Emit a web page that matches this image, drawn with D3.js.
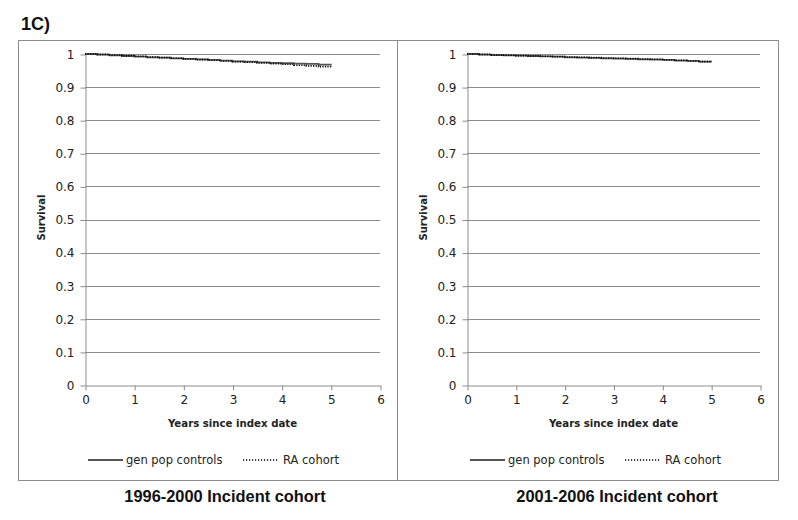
<!DOCTYPE html>
<html><head><meta charset="utf-8">
<script src="https://cdn.jsdelivr.net/npm/d3@7"></script>
<style>body{margin:0;background:#fff}svg{display:block}</style>
</head><body><svg id="c" width="798" height="520"></svg>
<script>
const years = [0,0.25,0.5,0.75,1,1.25,1.5,1.75,2,2.25,2.5,2.75,3,3.25,3.5,3.75,4,4.25,4.5,4.75,5];
const leftGenPop = [1,.998,.996,.994,.992,.990,.989,.987,.985,.984,.982,.980,.978,.977,.975,.973,.972,.971,.970,.968,.967];
const leftRA     = [1,.999,.997,.995,.993,.991,.989,.987,.985,.983,.981,.979,.977,.975,.973,.971,.969,.966,.964,.962,.960];
const rightGenPop= [1,.998,.997,.996,.995,.994,.993,.992,.990,.989,.988,.987,.986,.985,.984,.983,.982,.980,.979,.977,.975];
const rightRA    = [1,.999,.997,.996,.995,.994,.993,.992,.991,.990,.989,.988,.987,.986,.985,.984,.982,.981,.979,.977,.975];
const xTicks = [0,1,2,3,4,5,6];
const yTicks = [0,0.1,0.2,0.3,0.4,0.5,0.6,0.7,0.8,0.9,1];
const seriesNames = ["gen pop controls","RA cohort"];
const panelTitles = ["1996-2000 Incident cohort","2001-2006 Incident cohort"];
const figLabel = "1C)";

const svg = d3.select("#c");
const font = "Tahoma, 'DejaVu Sans', sans-serif";
svg.append("text").attr("x",21).attr("y",30).attr("font-family","Arial, 'Liberation Sans', sans-serif")
  .attr("font-weight","bold").attr("font-size",18).attr("fill","#111").text(figLabel);

const panels = [
  {x0:18, x1:397, px0:85, px1:380, gen:leftGenPop, ra:leftRA, title:panelTitles[0], tcx:225},
  {x0:397, x1:778, px0:467, px1:760, gen:rightGenPop, ra:rightRA, title:panelTitles[1], tcx:617}
];
const yTop=54, yBot=385;
panels.forEach(p=>{
  const g = svg.append("g");
  g.append("rect").attr("x",p.x0+0.5).attr("y",40.5).attr("width",p.x1-p.x0).attr("height",440)
    .attr("fill","none").attr("stroke","#8c8c8c").attr("stroke-width",1);
  const x = d3.scaleLinear().domain([0,6]).range([p.px0,p.px1]);
  const y = d3.scaleLinear().domain([0,1]).range([yBot,yTop]);
  g.selectAll(".grid").data(yTicks.filter(d=>d>0)).join("line")
    .attr("x1",p.px0).attr("x2",p.px1).attr("y1",d=>Math.round(y(d))+0.5).attr("y2",d=>Math.round(y(d))+0.5)
    .attr("stroke","#8c8c8c").attr("stroke-width",1);
  const ya = g.append("g").attr("transform",`translate(${p.px0+0.5},0.5)`)
    .call(d3.axisLeft(y).tickValues(yTicks).tickSize(5).tickSizeOuter(0).tickFormat(d=>d3.format("")(+d.toFixed(1))));
  ya.select(".domain").attr("stroke","#8c8c8c");
  ya.selectAll(".tick line").attr("stroke","#8c8c8c");
  ya.selectAll(".tick text").attr("font-family",font).attr("font-size",12).attr("fill","#222").attr("x",-11);
  const xa = g.append("g").attr("transform",`translate(0.5,${yBot+0.5})`)
    .call(d3.axisBottom(x).tickValues(xTicks).tickSize(5).tickSizeOuter(0).tickFormat(d3.format("d")));
  xa.select(".domain").attr("stroke","#8c8c8c");
  xa.selectAll(".tick line").attr("stroke","#8c8c8c");
  xa.selectAll(".tick text").attr("font-family",font).attr("font-size",12).attr("fill","#222").attr("y",10);
  g.append("text").attr("x",(p.px0+p.px1)/2).attr("y",427).attr("text-anchor","middle")
    .attr("font-family",font).attr("font-weight","bold").attr("font-size",10.2).attr("fill","#222").text("Years since index date");
  g.append("text").attr("transform",`translate(${p.px0-40},${(yTop+yBot)/2-2}) rotate(-90)`).attr("text-anchor","middle")
    .attr("font-family",font).attr("font-weight","bold").attr("font-size",10).attr("fill","#222").text("Survival");
  const line = d3.line().x((d,i)=>x(years[i])).y(d=>y(d)).curve(d3.curveStepAfter);
  g.append("path").datum(p.gen).attr("d",line).attr("fill","none").attr("stroke","#555").attr("stroke-width",1.8);
  g.append("path").datum(p.ra).attr("d",line).attr("fill","none").attr("stroke","#000").attr("stroke-width",1.6).attr("stroke-dasharray","1.2,1.3");
  const lx = p.px0+3;
  g.append("line").attr("x1",lx).attr("x2",lx+35).attr("y1",460).attr("y2",460).attr("stroke","#555").attr("stroke-width",1.8);
  g.append("text").attr("x",lx+38).attr("y",464).attr("font-family",font).attr("font-size",11.5).attr("fill","#222").text(seriesNames[0]);
  g.append("line").attr("x1",lx+155).attr("x2",lx+191).attr("y1",460).attr("y2",460).attr("stroke","#000").attr("stroke-width",1.3).attr("stroke-dasharray","1.2,1.8");
  g.append("text").attr("x",lx+195).attr("y",464).attr("font-family",font).attr("font-size",11.5).attr("fill","#222").text(seriesNames[1]);
  svg.append("text").attr("x",p.tcx).attr("y",502).attr("text-anchor","middle")
    .attr("font-family","Arial, 'Liberation Sans', sans-serif").attr("font-weight","bold").attr("font-size",16.4).attr("fill","#111").text(p.title);
});
</script></body></html>
